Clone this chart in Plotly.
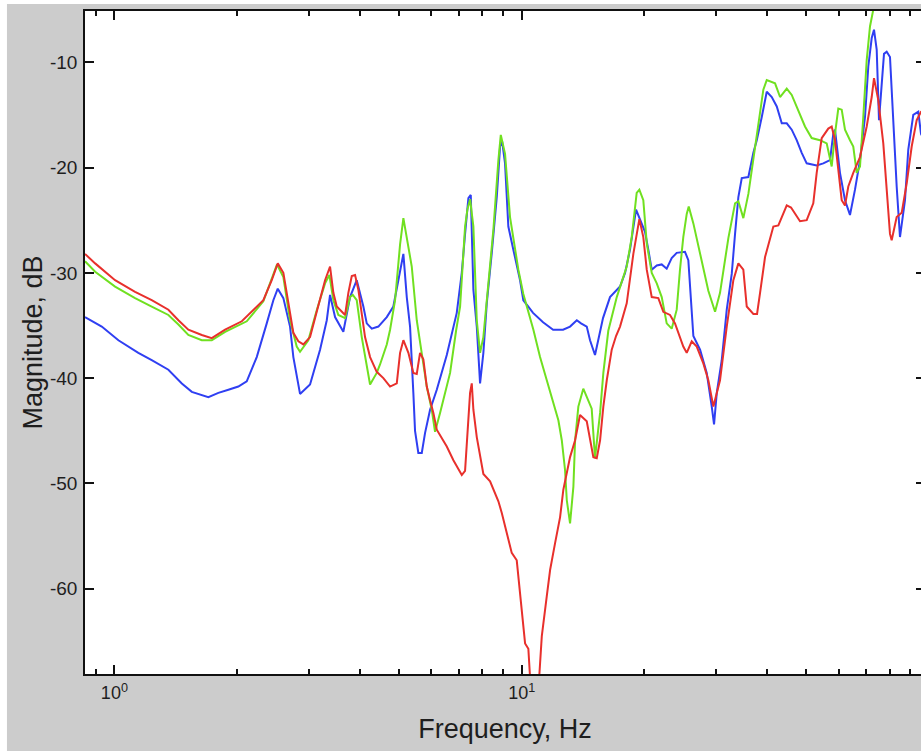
import math
import plotly.graph_objects as go

# Frequency response magnitude, three channels: (frequency in Hz, magnitude in dB)
blue_points = [
    (0.847, -34.2), (0.931, -35.1), (1.023, -36.4), (1.145, -37.6), (1.235, -38.3),
    (1.357, -39.2), (1.464, -40.5), (1.549, -41.3), (1.701, -41.8), (1.800, -41.4),
    (1.905, -41.1), (2.015, -40.8), (2.113, -40.3), (2.236, -38.0), (2.366, -34.8),
    (2.456, -32.6), (2.518, -31.5), (2.599, -32.4), (2.699, -35.1), (2.750, -38.0),
    (2.856, -41.5), (3.022, -40.6), (3.198, -37.3), (3.322, -34.5), (3.384, -32.1),
    (3.481, -34.2), (3.648, -35.6), (3.789, -32.3), (3.935, -30.7), (4.085, -33.2),
    (4.164, -34.8), (4.284, -35.3), (4.446, -35.1), (4.663, -34.2), (4.840, -33.2),
    (4.979, -30.7), (5.122, -28.2), (5.221, -32.3), (5.319, -35.1), (5.419, -41.4),
    (5.471, -45.0), (5.574, -47.1), (5.683, -47.1), (5.790, -45.2), (5.956, -43.0),
    (6.186, -41.1), (6.546, -37.8), (6.926, -33.8), (7.125, -30.0), (7.259, -26.3),
    (7.396, -22.9), (7.497, -22.6), (7.608, -31.6), (7.755, -35.1), (7.826, -37.6),
    (7.901, -40.5), (8.050, -37.6), (8.206, -32.9), (8.442, -28.1), (8.684, -22.8),
    (8.848, -18.0), (8.948, -17.5), (9.099, -19.6), (9.270, -25.6), (9.536, -27.8),
    (9.905, -30.7), (10.09, -32.6), (10.66, -33.8), (11.28, -34.7), (11.94, -35.4),
    (12.63, -35.4), (13.14, -35.1), (13.65, -34.5), (13.98, -34.8), (14.44, -35.1),
    (14.71, -36.4), (15.13, -37.8), (15.43, -36.4), (15.83, -34.3), (16.47, -32.3),
    (17.43, -31.3), (17.93, -30.0), (18.44, -27.8), (19.08, -24.0), (20.07, -26.1),
    (20.45, -27.8), (20.85, -29.7), (21.45, -29.3), (22.06, -29.2), (22.69, -29.6),
    (23.34, -28.6), (24.01, -28.1), (25.16, -28.0), (25.64, -28.8), (26.14, -33.5),
    (26.38, -36.0), (27.40, -37.3), (28.45, -39.5), (29.27, -42.7), (29.65, -44.4),
    (30.11, -41.4), (30.97, -38.3), (31.86, -33.5), (32.77, -30.1), (33.39, -26.3),
    (34.02, -22.8), (34.68, -21.0), (36.00, -20.9), (37.03, -18.6), (37.75, -17.4),
    (38.83, -15.2), (39.94, -12.8), (41.09, -13.3), (42.27, -14.2), (43.48, -15.8),
    (44.72, -15.8), (46.00, -16.4), (47.31, -17.4), (48.67, -18.6), (50.06, -19.6),
    (52.97, -19.8), (54.98, -19.6), (57.11, -19.3), (58.18, -16.8), (58.74, -16.4),
    (59.51, -18.3), (60.42, -20.5), (62.16, -23.1), (63.94, -24.5), (65.77, -22.1),
    (67.66, -19.3), (69.60, -15.2), (70.91, -10.4), (72.29, -7.7), (73.23, -6.9),
    (74.36, -8.8), (75.33, -15.5), (77.49, -9.2), (78.68, -9.0), (80.16, -9.5),
    (80.93, -13.0), (81.67, -14.8), (83.25, -21.8), (84.82, -26.6), (87.25, -23.1),
    (88.89, -18.3), (91.44, -15.0), (94.06, -14.7), (95.53, -16.8), (97.71, -17.5),
]

green_points = [
    (0.847, -28.9), (0.897, -29.9), (1.004, -31.3), (1.124, -32.4), (1.235, -33.2),
    (1.357, -34.0), (1.436, -34.9), (1.519, -35.9), (1.639, -36.4), (1.734, -36.4),
    (1.870, -35.6), (2.113, -34.6), (2.321, -32.7), (2.411, -31.0), (2.508, -29.2),
    (2.599, -30.4), (2.699, -34.5), (2.803, -37.0), (2.856, -37.5), (2.993, -36.4),
    (3.141, -33.5), (3.290, -31.0), (3.371, -30.2), (3.448, -32.6), (3.547, -34.0),
    (3.684, -34.3), (3.789, -32.3), (3.848, -32.1), (3.935, -32.6), (4.048, -36.1),
    (4.164, -38.6), (4.243, -40.6), (4.406, -39.5), (4.489, -38.7), (4.663, -36.8),
    (4.751, -35.4), (4.887, -32.6), (5.027, -27.3), (5.122, -24.8), (5.221, -26.6),
    (5.370, -29.4), (5.524, -34.5), (5.683, -37.6), (5.846, -40.8), (6.013, -43.0),
    (6.126, -45.1), (6.302, -43.3), (6.669, -39.5), (6.899, -35.5), (7.057, -33.2),
    (7.259, -25.6), (7.354, -24.0), (7.467, -23.0), (7.608, -25.6), (7.755, -34.5),
    (7.901, -37.6), (8.050, -36.1), (8.281, -31.3), (8.519, -25.9), (8.763, -19.3),
    (8.883, -16.9), (9.099, -18.7), (9.359, -24.7), (9.810, -29.7), (10.09, -32.0),
    (10.68, -35.4), (11.09, -38.0), (11.52, -40.2), (11.96, -42.4), (12.30, -44.0),
    (12.54, -45.9), (12.77, -48.7), (12.90, -51.6), (13.14, -53.8), (13.39, -50.3),
    (13.52, -45.9), (13.77, -42.7), (14.16, -41.0), (14.85, -42.9), (15.13, -47.6),
    (15.57, -43.3), (15.86, -39.5), (16.31, -35.5), (17.11, -32.3), (18.10, -29.4),
    (18.62, -26.6), (19.15, -22.4), (19.44, -22.1), (19.88, -23.1), (20.27, -27.2),
    (20.85, -30.0), (21.45, -31.0), (22.06, -32.3), (22.69, -34.8), (23.34, -35.3),
    (24.01, -33.5), (24.46, -29.7), (24.92, -26.6), (25.41, -24.4), (25.70, -23.7),
    (26.38, -25.3), (27.40, -28.3), (28.71, -31.7), (29.82, -33.7), (30.67, -31.9),
    (32.15, -26.7), (33.39, -23.4), (34.02, -23.2), (34.99, -24.8), (36.00, -22.5),
    (37.03, -19.3), (38.09, -16.1), (39.18, -12.6), (39.94, -11.7), (41.86, -12.0),
    (43.06, -13.3), (44.72, -12.5), (46.00, -13.1), (47.74, -14.5), (49.58, -16.1),
    (51.49, -17.2), (53.97, -17.4), (56.05, -17.7), (57.11, -19.0), (57.66, -19.9),
    (58.74, -16.8), (59.85, -14.4), (61.01, -14.5), (62.16, -16.4), (63.94, -17.4),
    (65.14, -18.0), (66.41, -20.5), (67.66, -19.9), (68.93, -15.2), (70.27, -9.8),
    (71.59, -6.6), (72.94, -5.0), (74.06, -3.0),
]

red_points = [
    (0.847, -28.2), (0.897, -29.1), (1.004, -30.7), (1.124, -31.8), (1.235, -32.6),
    (1.357, -33.5), (1.436, -34.5), (1.519, -35.4), (1.639, -35.9), (1.734, -36.2),
    (1.870, -35.4), (2.055, -34.6), (2.321, -32.6), (2.434, -30.7), (2.518, -29.1),
    (2.599, -30.0), (2.699, -33.8), (2.750, -35.7), (2.829, -36.5), (2.910, -36.8),
    (3.022, -36.1), (3.168, -33.2), (3.290, -30.7), (3.384, -29.4), (3.448, -31.9),
    (3.515, -33.2), (3.616, -33.7), (3.684, -34.0), (3.753, -31.9), (3.826, -30.3),
    (3.898, -30.2), (3.971, -31.6), (4.124, -36.1), (4.243, -38.0), (4.406, -39.4),
    (4.574, -40.0), (4.751, -40.8), (4.934, -40.5), (5.027, -37.6), (5.122, -36.4),
    (5.269, -37.6), (5.419, -39.5), (5.524, -39.6), (5.628, -37.6), (5.734, -38.2),
    (5.846, -40.8), (5.956, -42.1), (6.068, -43.3), (6.186, -44.9), (6.546, -46.5),
    (6.795, -47.8), (7.125, -49.2), (7.259, -48.8), (7.329, -46.5), (7.396, -43.7),
    (7.467, -41.4), (7.539, -40.5), (7.608, -43.0), (7.755, -45.6), (8.050, -49.1),
    (8.361, -49.8), (8.763, -51.7), (8.933, -52.8), (9.186, -54.7), (9.450, -56.6),
    (9.721, -57.3), (9.905, -60.4), (10.06, -63.3), (10.19, -65.2), (10.38, -65.7),
    (10.54, -70.0), (10.97, -70.0), (11.20, -64.5), (11.52, -60.7), (11.74, -58.2),
    (12.07, -55.7), (12.42, -53.2), (12.65, -50.6), (13.14, -47.5), (13.52, -45.9),
    (13.90, -43.5), (14.44, -44.1), (14.99, -47.5), (15.28, -47.6), (15.57, -45.9),
    (15.86, -42.7), (16.17, -40.2), (16.63, -37.3), (17.04, -36.0), (17.43, -35.1),
    (18.10, -32.9), (18.79, -28.2), (19.44, -24.9), (19.88, -26.6), (20.27, -29.7),
    (20.85, -32.3), (21.64, -32.4), (22.26, -33.7), (23.12, -34.0), (23.78, -34.8),
    (24.46, -36.1), (24.92, -37.0), (25.41, -37.6), (26.14, -36.5), (26.89, -37.0),
    (27.91, -38.6), (28.71, -40.2), (29.54, -42.7), (30.67, -40.2), (31.86, -35.1),
    (33.07, -30.7), (34.02, -29.1), (34.99, -29.7), (35.67, -33.2), (37.03, -33.9),
    (37.81, -33.9), (38.46, -31.9), (39.56, -28.5), (41.46, -25.6), (42.65, -25.5),
    (44.72, -23.6), (45.82, -23.8), (48.20, -25.1), (50.06, -25.0), (51.96, -23.4),
    (52.97, -20.5), (54.49, -17.2), (56.56, -16.3), (57.66, -16.1), (58.74, -17.4),
    (59.85, -20.2), (61.01, -23.1), (62.16, -23.6), (63.33, -21.8), (65.14, -20.5),
    (67.66, -19.0), (70.27, -16.1), (72.29, -13.3), (73.23, -11.5), (75.03, -13.6),
    (77.18, -17.7), (78.68, -22.5), (80.16, -26.3), (80.93, -26.9), (83.25, -24.7),
    (85.64, -24.3), (88.10, -21.5), (90.62, -18.0), (93.22, -15.5), (95.53, -14.7),
    (97.71, -14.5),
]

x_major = [1, 10]
x_major_text = ["10<sup>0</sup>", "10<sup>1</sup>"]
x_minor = [0.9] + [m * d for d in (1, 10) for m in range(2, 10)]
y_ticks = [-60, -50, -40, -30, -20, -10]
y_tick_text = ["-60", "-50", "-40", "-30", "-20", "-10"]
x_limits = (0.847, 97.7)
y_limits = (-68.1, -5.13)

series = [
    ("blue", blue_points, "#2f3ff2"),
    ("green", green_points, "#70e020"),
    ("red", red_points, "#e8302c"),
]

fig = go.Figure()
for name, pts, color in series:
    fig.add_trace(go.Scatter(
        x=[p[0] for p in pts], y=[p[1] for p in pts],
        mode="lines", name=name,
        line=dict(color=color, width=2),
        showlegend=False,
    ))

x_tick_font = dict(family="Liberation Sans, Arial, sans-serif", size=18, color="#1e1e1e")
y_tick_font = dict(family="Liberation Sans, Arial, sans-serif", size=19, color="#1e1e1e")
title_font = dict(family="Liberation Sans, Arial, sans-serif", size=27, color="#1e1e1e")

fig.update_xaxes(
    type="log",
    range=[math.log10(x_limits[0]), math.log10(x_limits[1])],
    tickvals=x_major, ticktext=x_major_text,
    ticks="inside", ticklen=9, tickwidth=1.5, tickcolor="#111",
    minor=dict(tickvals=x_minor, ticks="inside", ticklen=5, tickwidth=1.5, tickcolor="#111"),
    showline=True, linecolor="#111", linewidth=1.5, mirror="ticks",
    showgrid=False, zeroline=False,
    tickfont=x_tick_font, ticklabelstandoff=2,
    title=dict(text="Frequency, Hz", font=title_font, standoff=17),
)
fig.update_yaxes(
    range=list(y_limits),
    tickvals=y_ticks, ticktext=y_tick_text,
    ticks="inside", ticklen=9, tickwidth=1.5, tickcolor="#111",
    showline=True, linecolor="#111", linewidth=1.5, mirror="ticks",
    showgrid=False, zeroline=False,
    tickfont=y_tick_font, ticklabelstandoff=2,
    title=dict(text="Magnitude, dB", font=title_font, standoff=0),
)

# white frame strips at the far left and top edge of the window
fig.add_shape(type="rect", xref="paper", yref="paper",
              x0=-0.2, x1=-0.0929, y0=-0.3, y1=1.2,
              line=dict(width=0), fillcolor="white", layer="above")
fig.add_shape(type="rect", xref="paper", yref="paper",
              x0=-0.2, x1=1.2, y0=1.0106, y1=1.2,
              line=dict(width=0), fillcolor="white", layer="above")

fig.update_layout(
    width=927, height=751,
    margin=dict(l=85, r=2, t=11, b=77, autoexpand=False),
    paper_bgcolor="#cccccc", plot_bgcolor="white",
)

fig.write_html("out.html", post_script="document.body.style.overflow='hidden';")
